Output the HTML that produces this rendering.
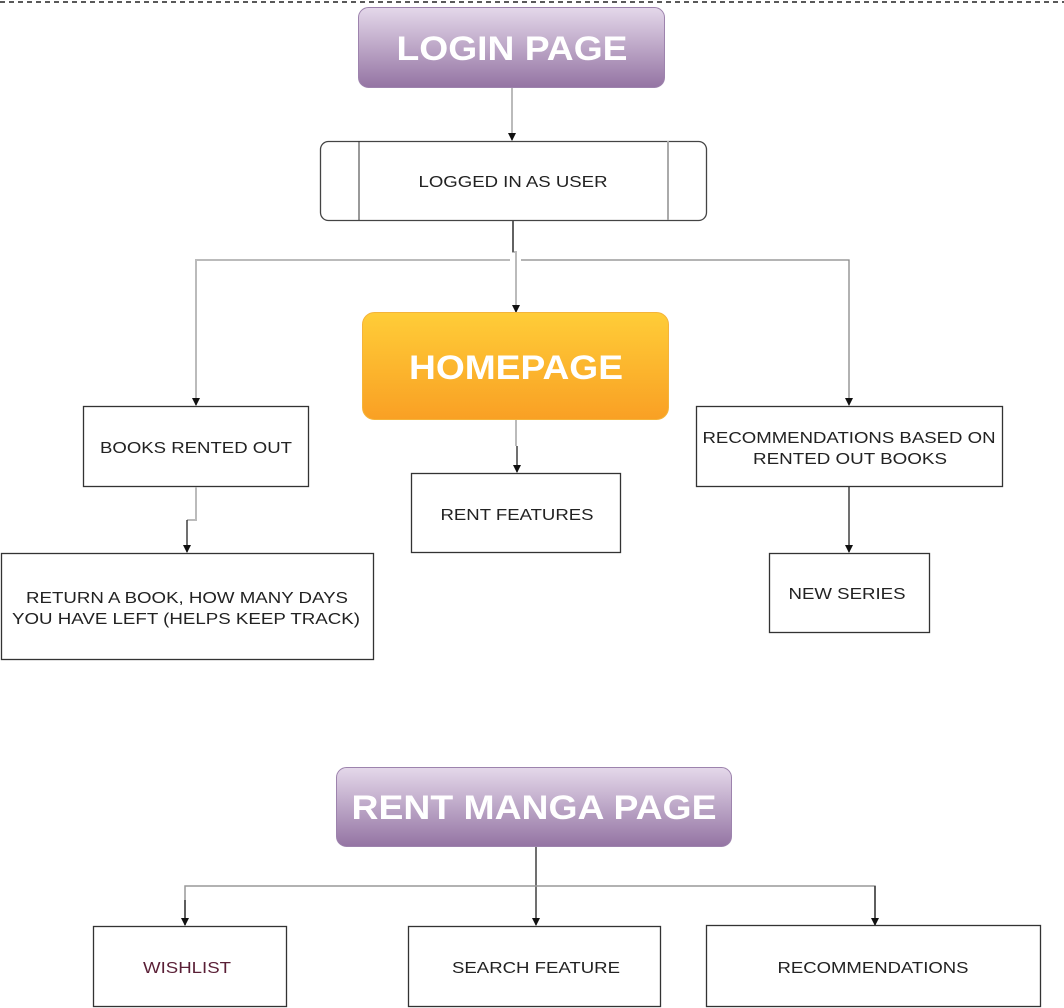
<!DOCTYPE html>
<html><head><meta charset="utf-8"><style>
html,body{margin:0;padding:0;background:#fff;}
svg{display:block;}
text{font-family:"Liberation Sans",Arial,sans-serif;}
</style></head><body>
<svg width="1064" height="1008" viewBox="0 0 1064 1008" xmlns="http://www.w3.org/2000/svg">
<defs>
<linearGradient id="pur" x1="0" y1="0" x2="0" y2="1"><stop offset="0" stop-color="#e4d8ea"/><stop offset="1" stop-color="#9474a3"/></linearGradient>
<linearGradient id="org" x1="0" y1="0" x2="0" y2="1"><stop offset="0" stop-color="#ffcd38"/><stop offset="1" stop-color="#f9a024"/></linearGradient>
<marker id="a" markerWidth="8" markerHeight="8" refX="7" refY="4" orient="auto" markerUnits="userSpaceOnUse"><path d="M0,0 L8,4 L0,8 z" fill="#111"/></marker>
</defs>
<line x1="0" y1="2" x2="1064" y2="2" stroke="#222" stroke-width="1.5" stroke-dasharray="5,4"/>

<rect x="358.5" y="7.5" width="306" height="80" rx="10" fill="url(#pur)" stroke="#9d83ad"/>
<text x="512" y="60" text-anchor="middle" font-size="34" font-weight="bold" fill="#fff" textLength="231" lengthAdjust="spacingAndGlyphs">LOGIN PAGE</text>
<line x1="512" y1="88" x2="512" y2="140" stroke="#bbb" stroke-width="2" marker-end="url(#a)"/>

<rect x="320.5" y="141.5" width="386" height="79" rx="8" fill="#fff" stroke="#444" stroke-width="1.3"/>
<line x1="359" y1="141" x2="359" y2="220" stroke="#333"/>
<line x1="668" y1="141" x2="668" y2="220" stroke="#aaa" stroke-width="2"/>
<text x="513" y="187" text-anchor="middle" font-size="16" fill="#222" textLength="189" lengthAdjust="spacingAndGlyphs">LOGGED IN AS USER</text>

<polyline points="513,221 513,252 516,252 516,312" fill="none" stroke="#bbb" stroke-width="2" marker-end="url(#a)"/>
<line x1="513" y1="221" x2="513" y2="252" stroke="#333" stroke-width="1.3"/>
<polyline points="510,260 196,260 196,405" fill="none" stroke="#bbb" stroke-width="2" marker-end="url(#a)"/>
<polyline points="521,260 849,260 849,405" fill="none" stroke="#888" stroke-width="1.3" marker-end="url(#a)"/>

<rect x="362.5" y="312.5" width="306" height="107" rx="12" fill="url(#org)" stroke="#f5b43a"/>
<text x="516" y="379" text-anchor="middle" font-size="34" font-weight="bold" fill="#fff" textLength="214" lengthAdjust="spacingAndGlyphs">HOMEPAGE</text>
<line x1="516" y1="420" x2="516" y2="446" stroke="#bbb" stroke-width="2"/>
<line x1="517" y1="446" x2="517" y2="472" stroke="#222" stroke-width="1.3" marker-end="url(#a)"/>

<rect x="83.5" y="406.5" width="225" height="80" fill="#fff" stroke="#333" stroke-width="1.3"/>
<text x="196" y="453" text-anchor="middle" font-size="16" fill="#222" textLength="192" lengthAdjust="spacingAndGlyphs">BOOKS RENTED OUT</text>
<polyline points="196,487 196,520 187,520" fill="none" stroke="#bbb" stroke-width="2"/>
<line x1="187" y1="520" x2="187" y2="552" stroke="#222" stroke-width="1.3" marker-end="url(#a)"/>

<rect x="1.5" y="553.5" width="372" height="106" fill="#fff" stroke="#333" stroke-width="1.3"/>
<text x="187" y="603" text-anchor="middle" font-size="16" fill="#222" textLength="322" lengthAdjust="spacingAndGlyphs">RETURN A BOOK, HOW MANY DAYS</text>
<text x="186" y="624" text-anchor="middle" font-size="16" fill="#222" textLength="348" lengthAdjust="spacingAndGlyphs">YOU HAVE LEFT (HELPS KEEP TRACK)</text>

<rect x="411.5" y="473.5" width="209" height="79" fill="#fff" stroke="#333" stroke-width="1.3"/>
<text x="517" y="520" text-anchor="middle" font-size="16" fill="#222" textLength="153" lengthAdjust="spacingAndGlyphs">RENT FEATURES</text>

<rect x="696.5" y="406.5" width="306" height="80" fill="#fff" stroke="#333" stroke-width="1.3"/>
<text x="849" y="443" text-anchor="middle" font-size="16" fill="#222" textLength="293" lengthAdjust="spacingAndGlyphs">RECOMMENDATIONS BASED ON</text>
<text x="850" y="464" text-anchor="middle" font-size="16" fill="#222" textLength="194" lengthAdjust="spacingAndGlyphs">RENTED OUT BOOKS</text>
<line x1="849" y1="487" x2="849" y2="552" stroke="#222" stroke-width="1.3" marker-end="url(#a)"/>

<rect x="769.5" y="553.5" width="160" height="79" fill="#fff" stroke="#333" stroke-width="1.3"/>
<text x="847" y="599" text-anchor="middle" font-size="16" fill="#222" textLength="117" lengthAdjust="spacingAndGlyphs">NEW SERIES</text>

<rect x="336.5" y="767.5" width="395" height="79" rx="10" fill="url(#pur)" stroke="#9d83ad"/>
<text x="534" y="819" text-anchor="middle" font-size="34" font-weight="bold" fill="#fff" textLength="365" lengthAdjust="spacingAndGlyphs">RENT MANGA PAGE</text>
<line x1="536" y1="847" x2="536" y2="925" stroke="#222" stroke-width="1.3" marker-end="url(#a)"/>
<polyline points="185,925 185,886 875,886 875,925" fill="none" stroke="#999" stroke-width="1.5"/>
<line x1="185" y1="900" x2="185" y2="925" stroke="#222" stroke-width="1.3" marker-end="url(#a)"/>
<line x1="875" y1="886" x2="875" y2="925" stroke="#222" stroke-width="1.3" marker-end="url(#a)"/>

<rect x="93.5" y="926.5" width="193" height="80" fill="#fff" stroke="#333" stroke-width="1.3"/>
<text x="187" y="973" text-anchor="middle" font-size="16" fill="#5a1f36" textLength="88" lengthAdjust="spacingAndGlyphs">WISHLIST</text>
<rect x="408.5" y="926.5" width="252" height="80" fill="#fff" stroke="#333" stroke-width="1.3"/>
<text x="536" y="973" text-anchor="middle" font-size="16" fill="#222" textLength="168" lengthAdjust="spacingAndGlyphs">SEARCH FEATURE</text>
<rect x="706.5" y="925.5" width="334" height="81" fill="#fff" stroke="#333" stroke-width="1.3"/>
<text x="873" y="973" text-anchor="middle" font-size="16" fill="#222" textLength="191" lengthAdjust="spacingAndGlyphs">RECOMMENDATIONS</text>
</svg>
</body></html>
